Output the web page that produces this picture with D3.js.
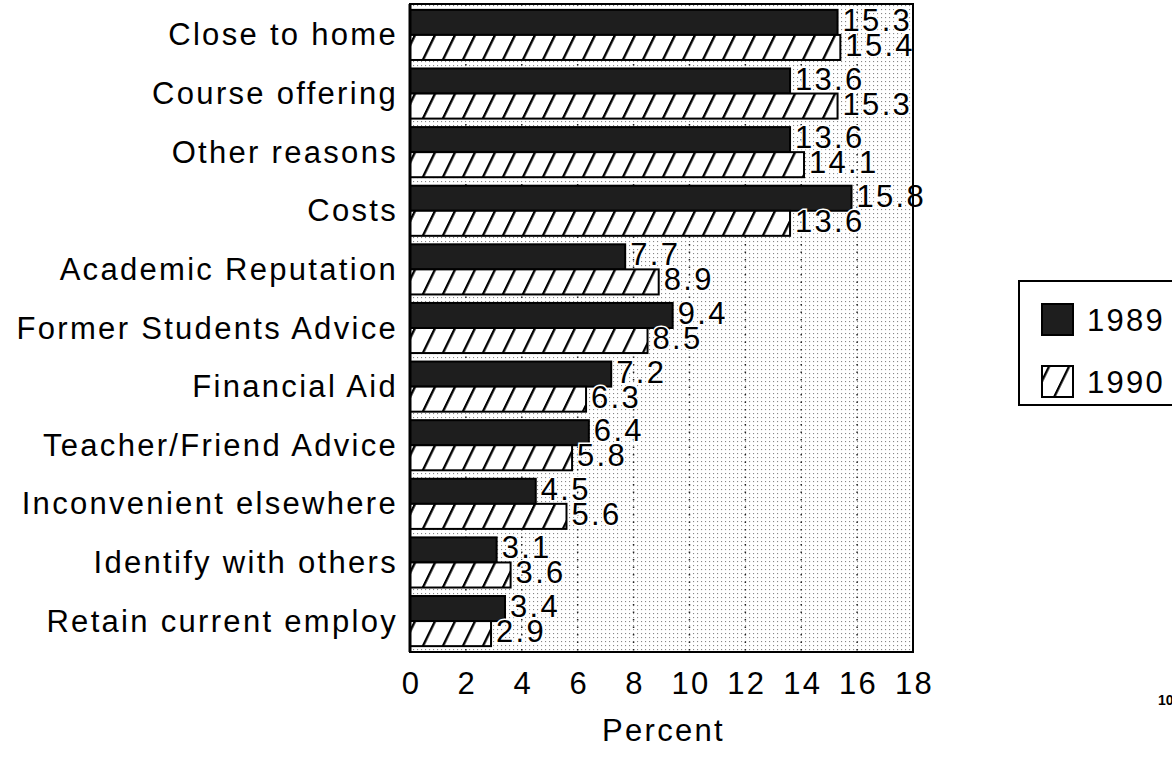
<!DOCTYPE html>
<html>
<head>
<meta charset="utf-8">
<script src="https://cdn.jsdelivr.net/npm/d3@7"></script>
<style>
  body { margin: 0; background: #fff; }
  svg { display: block; font-family: "Liberation Sans", Arial, Helvetica, sans-serif; }
  .lbl { font-size: 31px; letter-spacing: 2.3px; fill: #000; }
</style>
</head>
<body>
<div id="chart"></div>
<script>
// reasons for choosing the school, percent of answers
var categories = ["Close to home", "Course offering", "Other reasons", "Costs",
    "Academic Reputation", "Former Students Advice", "Financial Aid",
    "Teacher/Friend Advice", "Inconvenient elsewhere", "Identify with others",
    "Retain current employ"];
var values1989 = [15.3, 13.6, 13.6, 15.8, 7.7, 9.4, 7.2, 6.4, 4.5, 3.1, 3.4];
var values1990 = [15.4, 15.3, 14.1, 13.6, 8.9, 8.5, 6.3, 5.8, 5.6, 3.6, 2.9];
var years = ["1989", "1990"];
var xTicks = [0, 2, 4, 6, 8, 10, 12, 14, 16, 18];

(function () {
    var w = 1172, h = 757;
    var plot = {left: 410, right: 913, top: 4, bottom: 652};

    var svg = d3.select("#chart").append("svg")
        .attr("width", w).attr("height", h);

    var defs = svg.append("defs");

    // fine dot screen behind the bars
    var dots = defs.append("pattern")
        .attr("id", "dots").attr("patternUnits", "userSpaceOnUse")
        .attr("width", 4).attr("height", 4);
    dots.append("rect").attr("width", 4).attr("height", 4).attr("fill", "#fff");
    dots.append("rect").attr("x", 1).attr("y", 1).attr("width", 1.1).attr("height", 1.1).attr("fill", "#888");

    // hatching for 1990
    var hatch = defs.append("pattern")
        .attr("id", "hatch").attr("patternUnits", "userSpaceOnUse")
        .attr("width", 20).attr("height", 10)
        .attr("patternTransform", "skewX(-26)");
    hatch.append("rect").attr("width", 20).attr("height", 10).attr("fill", "#fff");
    hatch.append("rect").attr("x", 6).attr("width", 2.6).attr("height", 10).attr("fill", "#000");

    var fills = {"1989": "#1e1e1e", "1990": "url(#hatch)"};

    var x = d3.scaleLinear().domain([0, 18]).range([plot.left, plot.right]);
    var y = d3.scaleBand().domain(categories)
        .range([plot.top, plot.bottom])
        .paddingInner(0.145).paddingOuter(0.1);
    var ySub = d3.scaleBand().domain(years).range([0, y.bandwidth()]);

    // plot background
    svg.append("rect")
        .attr("x", plot.left).attr("y", plot.top)
        .attr("width", plot.right - plot.left).attr("height", plot.bottom - plot.top)
        .attr("fill", "url(#dots)");

    // dotted grid lines
    svg.selectAll(".grid")
        .data(xTicks.filter(function (d) { return d > 0 && d < 18; }))
        .enter().append("line")
        .attr("x1", function (d) { return x(d); })
        .attr("x2", function (d) { return x(d); })
        .attr("y1", plot.top).attr("y2", plot.bottom)
        .attr("stroke", "#222").attr("stroke-width", 1.5)
        .attr("stroke-dasharray", "1.5,6");

    var rows = categories.map(function (c, i) {
        return {cat: c, vals: [
            {year: "1989", value: values1989[i]},
            {year: "1990", value: values1990[i]}
        ]};
    });

    var groups = svg.selectAll(".row")
        .data(rows).enter().append("g")
        .attr("transform", function (d) { return "translate(0," + y(d.cat) + ")"; });

    groups.selectAll("rect")
        .data(function (d) { return d.vals; })
        .enter().append("rect")
        .attr("x", x(0))
        .attr("y", function (d) { return ySub(d.year); })
        .attr("width", function (d) { return x(d.value) - x(0); })
        .attr("height", ySub.bandwidth())
        .attr("fill", function (d) { return fills[d.year]; })
        .attr("stroke", "#000").attr("stroke-width", 2);

    groups.selectAll(".val")
        .data(function (d) { return d.vals; })
        .enter().append("text")
        .attr("class", "lbl")
        .attr("x", function (d) { return x(d.value) + 5; })
        .attr("y", function (d) { return ySub(d.year) + ySub.bandwidth() / 2 - 2; })
        .attr("dominant-baseline", "central")
        .attr("stroke", "#fff").attr("stroke-width", 3)
        .attr("paint-order", "stroke")
        .text(function (d) { return d.value.toFixed(1); });

    // category labels
    svg.selectAll(".cat")
        .data(categories).enter().append("text")
        .attr("class", "lbl")
        .attr("x", plot.left - 12)
        .attr("y", function (d) { return y(d) + y.bandwidth() / 2; })
        .attr("dominant-baseline", "central")
        .attr("text-anchor", "end")
        .text(function (d) { return d; });

    // frame
    svg.append("rect")
        .attr("x", plot.left).attr("y", plot.top)
        .attr("width", plot.right - plot.left).attr("height", plot.bottom - plot.top)
        .attr("fill", "none").attr("stroke", "#000").attr("stroke-width", 2);
    svg.append("line")
        .attr("x1", plot.left).attr("x2", plot.left)
        .attr("y1", plot.top).attr("y2", plot.bottom)
        .attr("stroke", "#000").attr("stroke-width", 3);

    // x axis
    var axis = svg.append("g")
        .attr("transform", "translate(0," + plot.bottom + ")")
        .call(d3.axisBottom(x).tickValues(xTicks).tickSize(0).tickPadding(20).tickFormat(d3.format("d")));
    axis.select(".domain").remove();
    axis.selectAll("text")
        .attr("class", "lbl")
        .style("font-size", "31px").style("font-family", "Liberation Sans, Arial, sans-serif")
        .attr("dx", "1px");

    svg.append("text")
        .attr("class", "lbl")
        .attr("x", (plot.left + plot.right) / 2 + 2)
        .attr("y", 741)
        .attr("text-anchor", "middle")
        .text("Percent");

    // legend
    var lg = svg.append("g").attr("transform", "translate(1019,281)");
    lg.append("rect")
        .attr("width", 200).attr("height", 124)
        .attr("fill", "#fff").attr("stroke", "#000").attr("stroke-width", 2);
    var item = lg.selectAll(".item")
        .data(years).enter().append("g")
        .attr("transform", function (d, i) { return "translate(23," + (23 + i * 62) + ")"; });
    item.append("rect")
        .attr("width", 31).attr("height", 31)
        .attr("fill", function (d) { return fills[d]; })
        .attr("stroke", "#000").attr("stroke-width", 2);
    item.append("text")
        .attr("class", "lbl")
        .attr("x", 45).attr("y", 16)
        .attr("dominant-baseline", "central")
        .text(function (d) { return d; });

    // page number, cut at the edge
    svg.append("text")
        .attr("x", 1158).attr("y", 705)
        .style("font-size", "14px").style("font-weight", "bold")
        .text("10");
})();
</script>
</body>
</html>
